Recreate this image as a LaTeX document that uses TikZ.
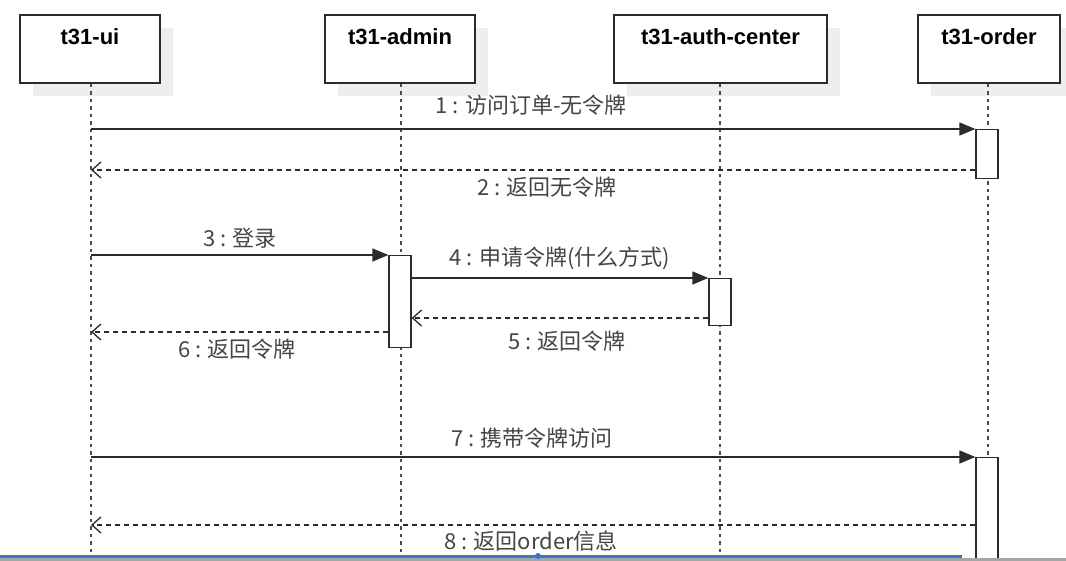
\documentclass[tikz,border=0pt]{standalone}
\usepackage{fontspec}
\setmainfont{Liberation Sans}
\newfontfamily\cjk{Noto Sans CJK SC}
\usetikzlibrary{arrows.meta}
\definecolor{edge}{HTML}{2B2B2B}
\definecolor{lbl}{HTML}{454545}
\definecolor{shadowgray}{HTML}{EEEEEE}
\definecolor{barblue}{HTML}{3A78C4}
\tikzset{
  x=1pt, y=-1pt,
  party/.style={draw=edge, line width=1.4pt, fill=white, minimum width=#1, minimum height=68pt, inner sep=0pt},
  partytext/.style={font=\bfseries\fontsize{22}{24}\selectfont, text=black},
  lifeline/.style={draw=edge!85, line width=1.3pt, dash pattern=on 3.5pt off 4pt},
  act/.style={draw=edge, line width=1.3pt, fill=white, minimum width=22pt, inner sep=0pt},
  call/.style={draw=edge, line width=1.4pt, -{Triangle[length=16pt,width=13pt]}},
  ret/.style={draw=edge, line width=1.2pt, dash pattern=on 5pt off 4pt, -{Straight Barb[length=9pt,width=16pt,line width=1.3pt]}},
  msg/.style={font=\cjk\fontsize{22}{24}\selectfont, text=lbl, inner sep=0pt}
}
\begin{document}
\begin{tikzpicture}
\useasboundingbox (0,0) rectangle (1066,561);
\fill[white] (0,0) rectangle (1066,561);
\clip (0,0) rectangle (1066,561);
% shadows
\foreach \a/\b in {20/160, 325/475, 614/827, 918/1060}{
  \fill[shadowgray] (\a+13,28) rectangle (\b+13,96);
}
% participants
\node[party=140pt] (ui) at (90,49) {};
\node[party=150pt] (admin) at (400,49) {};
\node[party=213pt] (auth) at (720.5,49) {};
\node[party=142pt] (order) at (989,49) {};
\node[partytext] (uit) at (90,37) {t31-ui};
\node[partytext] (admint) at (400,37) {t31-admin};
\node[partytext] (autht) at (720.5,37) {t31-auth-center};
\node[partytext] (ordert) at (989,37) {t31-order};
% lifeline ends
\coordinate (uiE) at (91,575);
\coordinate (adminE) at (401,575);
\coordinate (authE) at (720,575);
\coordinate (orderE) at (988,575);
\draw[lifeline] (ui.south -| uiE) -- (uiE);
\draw[lifeline] (admin.south -| adminE) -- (adminE);
\draw[lifeline] (auth.south -| authE) -- (authE);
\draw[lifeline] (order.south -| orderE) -- (orderE);
% activation bars
\node[act, minimum height=49pt, anchor=north] (oa1) at (987,129) {};
\node[act, minimum height=92pt, anchor=north] (aa1) at (400,255) {};
\node[act, minimum height=47pt, anchor=north] (ca1) at (720,278) {};
\node[act, minimum height=130pt, anchor=north] (oa2) at (987,457) {};
% message anchor points on ui lifeline
\coordinate (p1) at (91,129);
\coordinate (p2) at (91,170);
\coordinate (p3) at (91,255);
\coordinate (p6) at (91,332);
\coordinate (p7) at (91,457);
\coordinate (p8) at (91,525);
\coordinate (y4) at (0,278);
\coordinate (y5) at (0,318);
% messages
\draw[call] (p1) -- (oa1.north west);
\draw[ret] (oa1.west |- p2) -- (p2);
\draw[call] (p3) -- (aa1.north west);
\draw[call] (aa1.east |- y4) -- (ca1.north west);
\draw[ret] (ca1.west |- y5) -- (aa1.east |- y5);
\draw[ret] (aa1.west |- p6) -- (p6);
\draw[call] (p7) -- (oa2.north west);
\draw[ret] (oa2.west |- p8) -- (p8);
% labels
\node[msg] (l1) at (531,105) {1 : 访问订单-无令牌};
\node[msg] (l2) at (547,187) {2 : 返回无令牌};
\node[msg] (l3) at (240,238) {3 : 登录};
\node[msg] (l4) at (560,258) {4 : 申请令牌(什么方式)};
\node[msg] (l5) at (567,341) {5 : 返回令牌};
\node[msg] (l6) at (237,349) {6 : 返回令牌};
\node[msg] (l7) at (532,438) {7 : 携带令牌访问};
\node[msg] (l8) at (531,541) {8 : 返回order信息};
% bottom screen bar
\fill[barblue] (0,554.5) rectangle (962,558);
\fill[gray!70] (0,558) rectangle (1066,561);
\fill[barblue] (538,556) circle (3pt);
\end{tikzpicture}
\end{document}
